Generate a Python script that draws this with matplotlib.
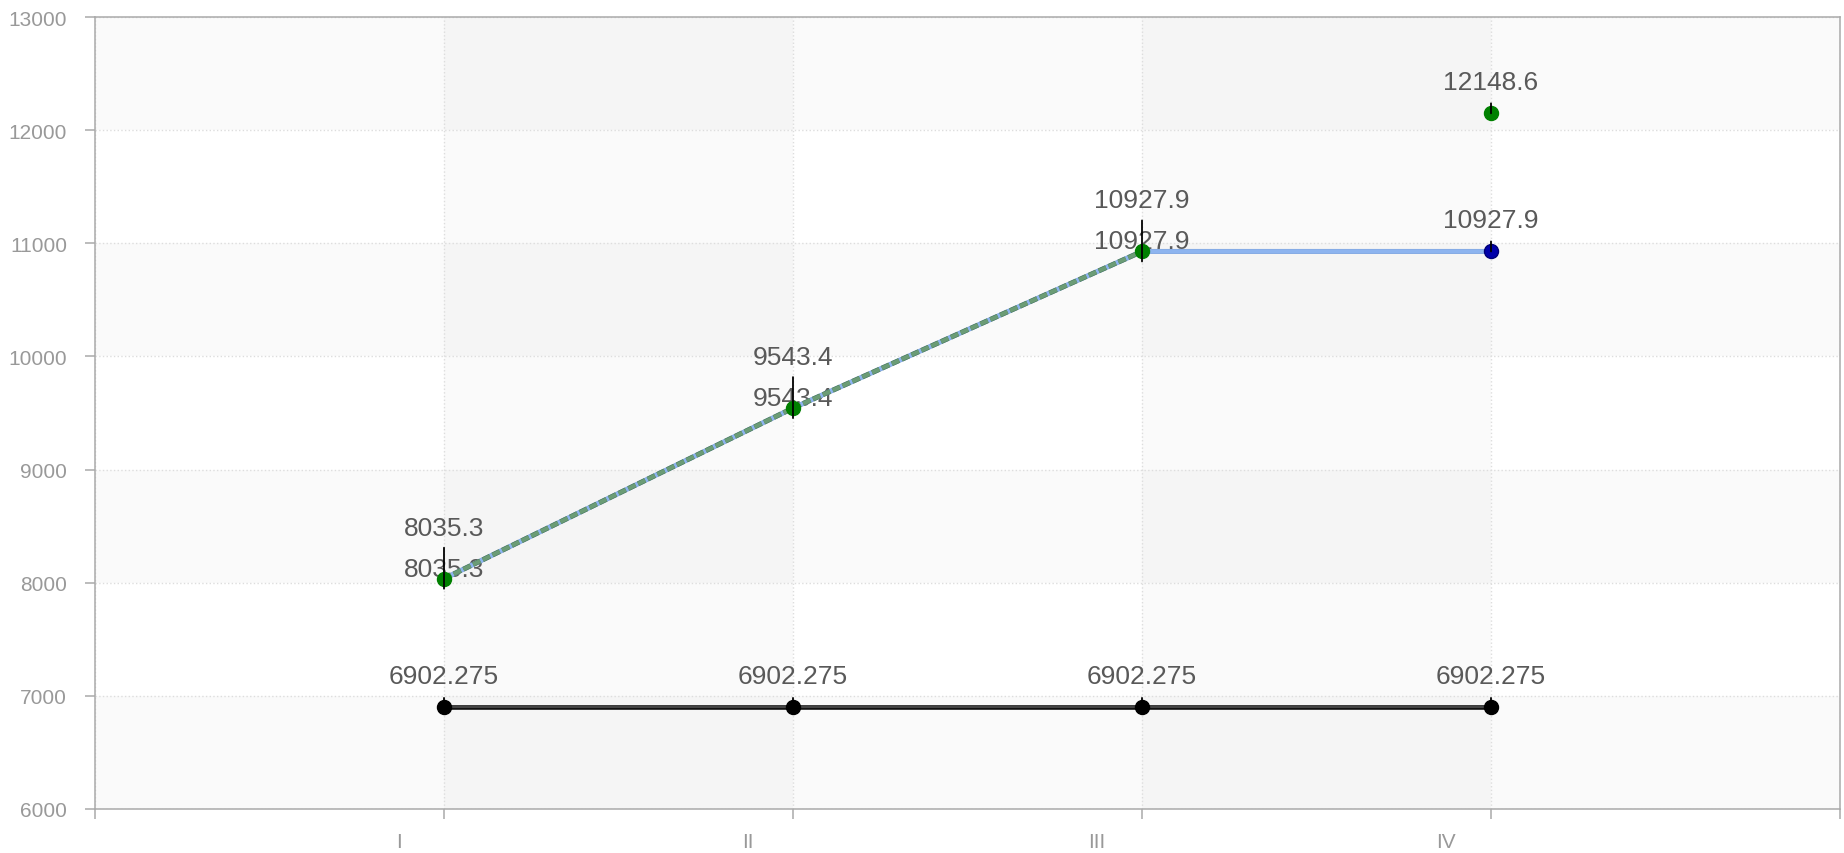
import matplotlib
matplotlib.use('Agg')
import matplotlib.pyplot as plt
import matplotlib.patheffects as pe
from matplotlib.transforms import offset_copy, ScaledTranslation

plt.rcParams['font.family'] = ['Liberation Sans', 'DejaVu Sans']

# Dados
categorias = ['I', 'II', 'III', 'IV']
serie_preta = [6902.275, 6902.275, 6902.275, 6902.275]
serie_azul = [8035.3, 9543.4, 10927.9, 10927.9]
serie_verde = [8035.3, 9543.4, 10927.9, None]
ponto_verde_iv = 12148.6

x = list(range(len(categorias)))
PX = 0.72  # 1 px em pontos (dpi 100)

fig = plt.figure(figsize=(18.44, 8.54), dpi=100)
ax = fig.add_axes([95 / 1844, 44 / 854, 1745 / 1844, 792 / 854])

# faixas de fundo
for y0 in range(6000, 13000, 2000):
    ax.axhspan(y0, y0 + 1000, color='black', alpha=0.02, lw=0, zorder=0.1)
for x0 in (0, 2):
    ax.axvspan(x0, x0 + 1, color='black', alpha=0.02, lw=0, zorder=0.1)

# linhas
ax.plot(x, serie_preta, color='black', lw=4.5 * PX, zorder=2)
ax.plot(x, serie_preta, color='#444444', lw=2.5 * PX, zorder=2.1)
ax.plot(x, serie_preta, 'o', color='black', ms=14 * PX, zorder=3)

ax.plot(x, serie_azul, color='#8db4ef', lw=4 * PX, zorder=2,
        path_effects=[pe.Stroke(linewidth=5 * PX, foreground='#7ea3dc'), pe.Normal()])
ax.plot(x[3], serie_azul[3], 'o', color='#0000aa', mec='#000077', ms=14 * PX, zorder=3)

xs_v = [xi for xi, v in zip(x, serie_verde) if v is not None]
ys_v = [v for v in serie_verde if v is not None]
ax.plot(xs_v, ys_v, color='#6b9c76', lw=4 * PX, dashes=(2.0, 0.7), zorder=2.2,
        path_effects=[pe.Stroke(linewidth=5 * PX, foreground='#4c7a57'), pe.Normal()])
ax.plot(xs_v, ys_v, 'o', color='#008000', ms=14 * PX, zorder=3)
ax.plot(x[3], ponto_verde_iv, 'o', color='#008000', ms=14 * PX, zorder=3)


def rotulo(xv, yv, off):
    ax.annotate(str(yv), (xv, yv), xytext=(0, off * PX), textcoords='offset points',
                ha='center', va='center', fontsize=19, color='#595959', zorder=1.5)


def traco(xv, yv, lo, hi):
    base = offset_copy(ax.transData, fig=fig, x=0, y=lo * PX, units='points')
    ax.annotate('', xy=(xv, yv), xycoords=base, xytext=(0, (hi - lo) * PX),
                textcoords='offset points', zorder=5,
                arrowprops=dict(arrowstyle='-', color='black', lw=1.3,
                                shrinkA=0, shrinkB=0))


for xi, v in zip(x, serie_preta):
    rotulo(xi, v, 31)
    traco(xi, v, 5, 9)
for xi, v in zip(xs_v, ys_v):
    rotulo(xi, v, 10)
    rotulo(xi, v, 51)
    traco(xi, v, -10, 31)
rotulo(x[3], serie_azul[3], 31)
traco(x[3], serie_azul[3], 0, 10)
rotulo(x[3], ponto_verde_iv, 31)
traco(x[3], ponto_verde_iv, 0, 10)

# eixos
ax.set_xlim(-1, len(categorias))
ax.set_ylim(6000, 13000)
ax.set_xticks(range(-1, len(categorias) + 1))
ax.set_xticklabels([''] + categorias + [''])
ax.set_yticks(range(6000, 13001, 1000))
for s in ax.spines.values():
    s.set_color('#aaaaaa')
    s.set_linewidth(1.1)
ax.tick_params(axis='both', colors='#aaaaaa', length=10 * PX, width=1.1,
               labelcolor='#999999', labelsize=15)
ax.tick_params(axis='y', pad=13)
ax.tick_params(axis='x', pad=9.5)
for lab in ax.get_xticklabels():
    lab.set_transform(lab.get_transform() + ScaledTranslation(-0.45, 0, fig.dpi_scale_trans))
ax.set_axisbelow(True)
ax.grid(color='#dddddd', linestyle=':', linewidth=1)

plt.savefig('out.png', dpi=100)
